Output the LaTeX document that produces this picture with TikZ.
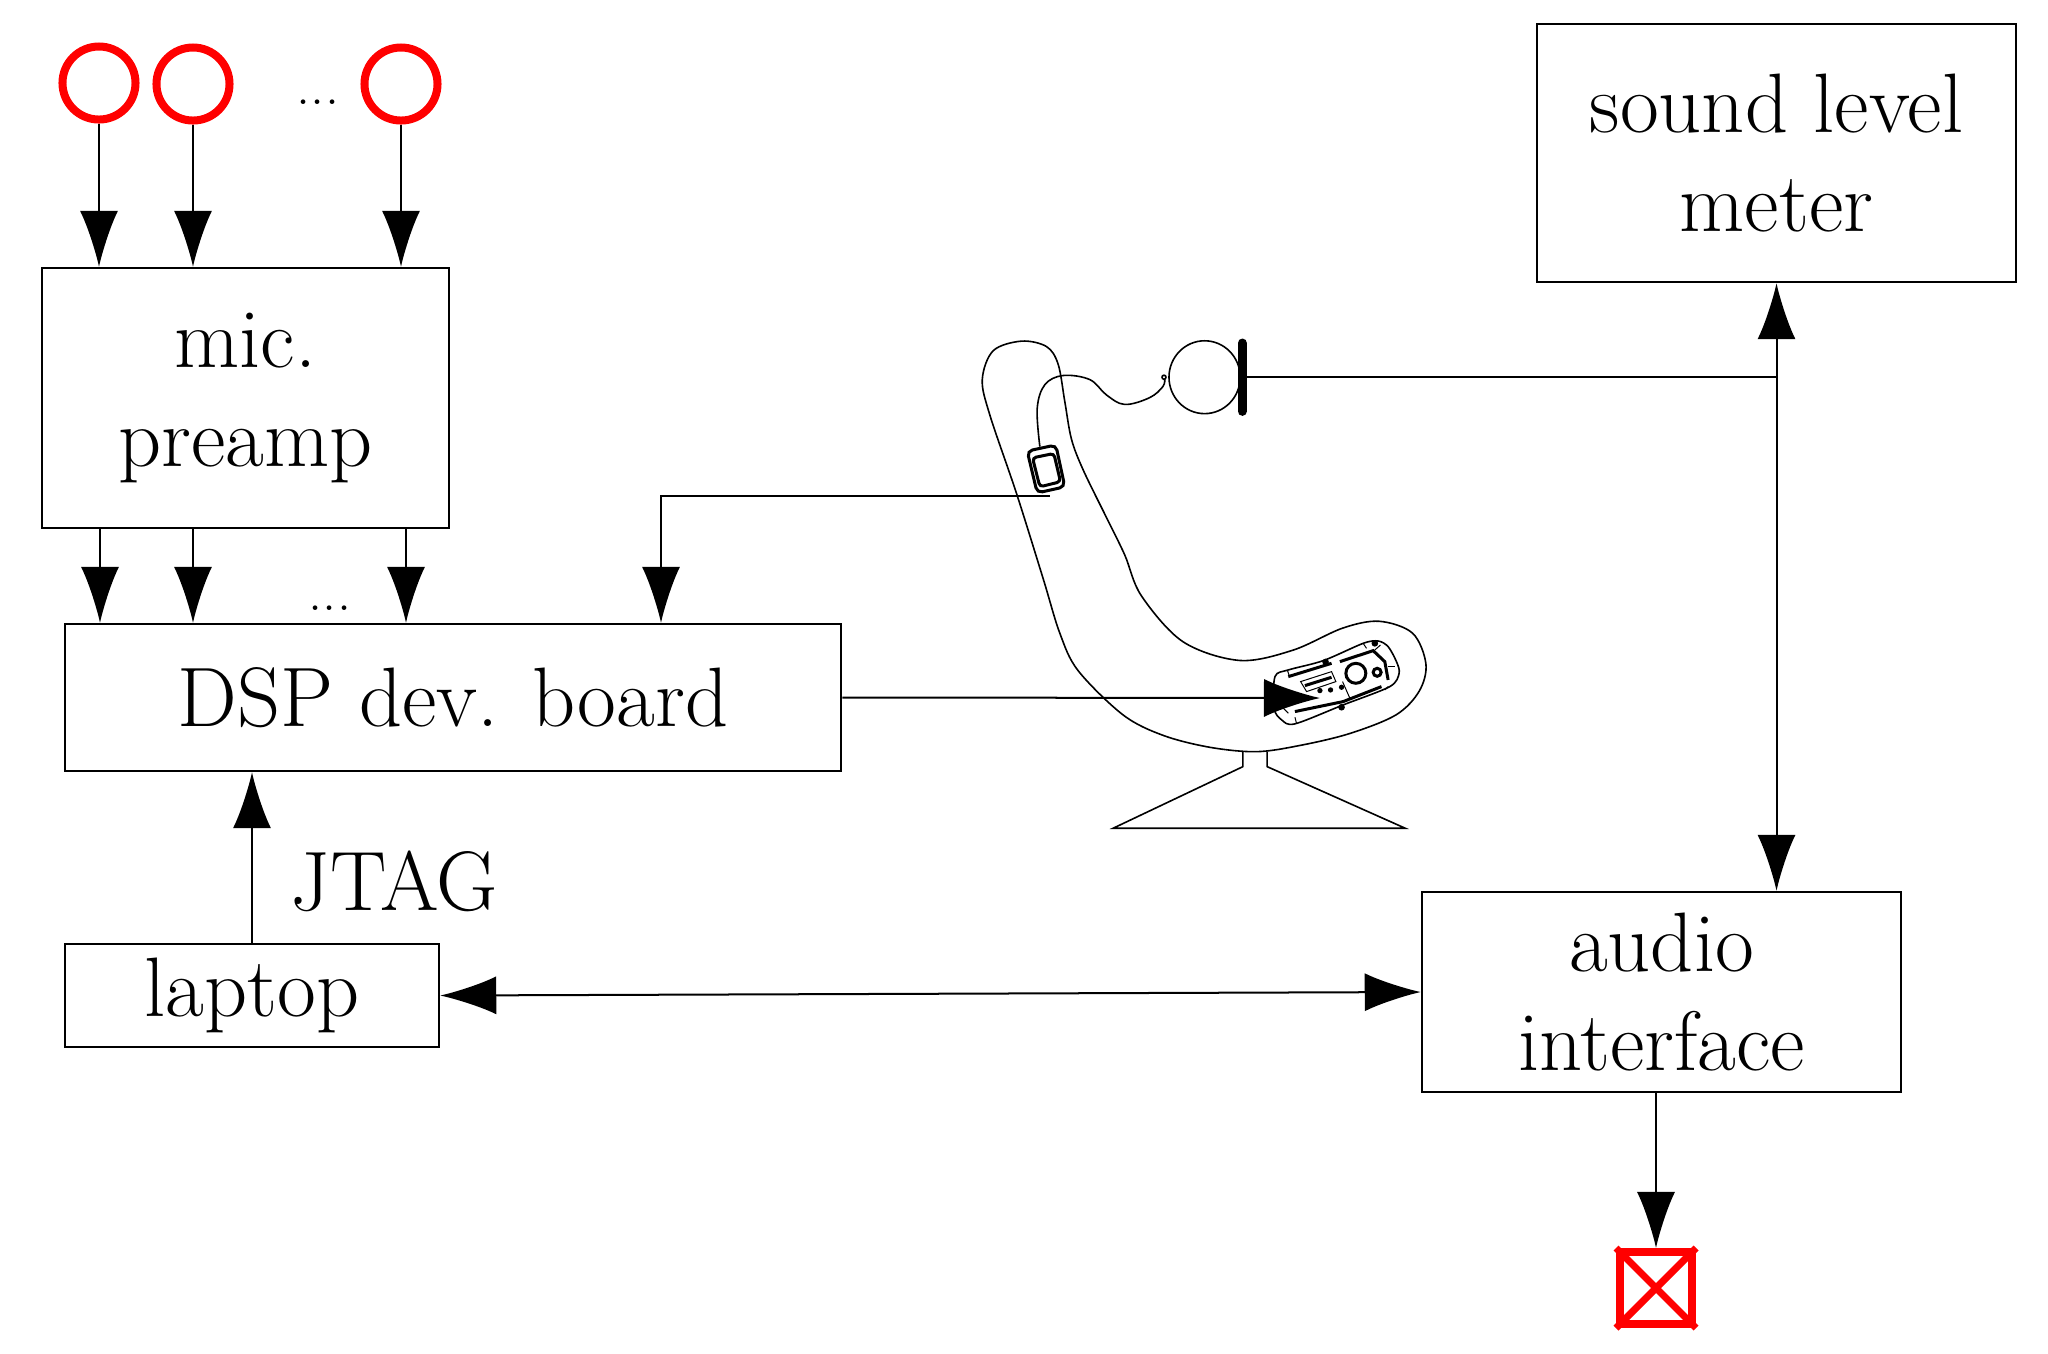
\documentclass[tikz,border=0pt]{standalone}
\usepackage{amsmath}
\usetikzlibrary{arrows.meta}

\tikzset{
  >={Latex[length=5.6mm,width=3.8mm]},
  blockbox/.style={draw,rectangle,inner sep=0,line width=.022cm,align=center,font=\fontsize{24}{28.2}\selectfont},
  micring/.style={draw=red,circle,inner sep=0,line width=.08cm,minimum size=.73cm},
  spkbox/.style={draw=red,rectangle,inner sep=0,line width=.08cm,minimum size=.72cm},
  wire/.style={line width=.02cm},
  chairline/.style={line width=.016cm},
  thinpart/.style={line width=.01cm},
  thickpart/.style={line width=.03cm}
}

\begin{document}
\begin{tikzpicture}[x=.01cm,y=-.01cm]
  \useasboundingbox (0,0) rectangle (2048,1353);
  % boxes
  \node[blockbox,minimum width=4.07cm,minimum height=2.60cm] (preamp) at (245.5,398) {mic.\\preamp};
  \node[blockbox,minimum width=7.76cm,minimum height=1.47cm] (dsp) at (453,697.5) {DSP dev. board};
  \node[blockbox,minimum width=3.74cm,minimum height=1.03cm] (laptop) at (252,995.5) {laptop};
  \node[blockbox,minimum width=4.79cm,minimum height=2.58cm] (meter) at (1776.5,153) {sound level\\meter};
  \node[blockbox,minimum width=4.79cm,minimum height=2.00cm] (audio) at (1661.5,992) {audio\\interface};
  \node[anchor=base,font=\fontsize{24}{28}\selectfont] (jtag) at (394,910) {JTAG};
  % mics
  \node[micring] (mica) at (99,83) {};
  \node[micring] (micb) at (193,84) {};
  \node[micring] (micn) at (401,84) {};
  \node[anchor=base,font=\fontsize{16}{18}\selectfont] (dotstop) at (318,104) {...};
  \draw[wire,->] (mica) -- (mica |- preamp.north);
  \draw[wire,->] (micb) -- (micb |- preamp.north);
  \draw[wire,->] (micn) -- (micn |- preamp.north);
  % preamp to board
  \coordinate (outa) at (100,528);
  \coordinate (outb) at (193,528);
  \coordinate (outn) at (406,528);
  \node[anchor=base,font=\fontsize{16}{18}\selectfont] (dotsmid) at (330,610) {...};
  \draw[wire,->] (outa) -- (outa |- dsp.north);
  \draw[wire,->] (outb) -- (outb |- dsp.north);
  \draw[wire,->] (outn) -- (outn |- dsp.north);
  % chair
  \begin{scope}[shift={(950,320)},x=.003333cm,y=-.003398cm]
    \draw[chairline] plot[smooth cycle,tension=.55] coordinates {
      (215,62) (290,78) (325,130) (345,240) (365,350) (400,440) (470,580) (525,690)
      (575,810) (700,945) (870,1000) (1030,970) (1180,905) (1290,885) (1390,920)
      (1430,1010) (1410,1090) (1340,1160) (1200,1215) (1050,1250) (920,1268)
      (780,1255) (640,1220) (520,1160) (385,1030) (330,920) (280,760) (200,510)
      (120,280) (97,175) (130,90)};
    \draw[chairline] (880,1268) -- (880,1312) -- (490,1493) -- (1368,1493) -- (953,1312) -- (953,1268);
    % phone and its cable
    \draw[thickpart,rounded corners=1.5pt] (232,385) -- (318,367) -- (345,490) -- (262,508) -- cycle;
    \draw[thickpart,rounded corners=1pt] (248,405) -- (312,392) -- (332,475) -- (270,490) -- cycle;
    \draw[chairline] plot[smooth,tension=.6] coordinates {
      (270,372) (262,260) (285,190) (340,163) (420,175) (470,220) (525,248) (600,228) (640,195) (645,172)};
    \draw[chairline] (643,168) circle (6);
    \coordinate (phoneout) at (300,518);
    % head
    \draw[chairline] (765,168) circle (107);
    \draw[line width=.093cm,line cap=round] (878,68) -- (878,268);
    \coordinate (headbar) at (892,168);
  \end{scope}
  % control panel in the seat
  \begin{scope}[shift={(1260,630)},x=.003333cm,y=-.003333cm]
    \draw[chairline] plot[smooth cycle,tension=.5] coordinates {
      (45,140) (85,120) (190,92) (310,40) (355,33) (385,50) (410,95) (418,130)
      (390,170) (250,225) (105,282) (65,270) (42,235)};
    \draw[thickpart] (85,140) -- (215,100);
    \draw[thickpart] (240,95) -- (340,62) -- (375,95) -- (385,150);
    \draw[thickpart] (365,170) -- (250,215) -- (105,245);
    \draw[thickpart] (288,130) circle (30);
    \draw[thickpart] (352,127) circle (12);
    \draw[thinpart] (122,155) -- (215,125) -- (228,155) -- (140,185) -- cycle;
    \draw[thickpart] (135,167) -- (215,142);
    \fill (197,96) circle (10);
    \fill (345,40) circle (10);
    \fill (245,232) circle (10);
    \fill (180,182) circle (8);
    \fill (212,180) circle (8);
    \fill (245,172) circle (8);
    \draw[thinpart] (82,120) -- (88,138);
    \draw[thinpart] (310,40) -- (320,55);
    \draw[thinpart] (362,45) -- (345,60);
    \draw[thinpart] (405,110) -- (385,110);
    \draw[thinpart] (385,170) -- (375,180);
    \draw[thinpart] (248,155) -- (270,205);
    \draw[thinpart] (105,262) -- (110,282);
    \draw[thinpart] (60,225) -- (85,250);
  \end{scope}
  \coordinate (seat) at (1320,698);
  \coordinate (chairin) at (661,0);
  \draw[wire,->] (phoneout) -| (chairin |- dsp.north);
  \draw[wire,->] (dsp.east) -- (seat);
  % meter, interface and speaker
  \draw[wire] (headbar) -- (headbar -| meter.south);
  \draw[wire,<->] (meter.south) -- (meter.south |- audio.north);
  \draw[wire,->] (laptop.north) -- (laptop.north |- dsp.south);
  \draw[wire,<->] (laptop.east) -- (audio.west);
  \node[spkbox] (spk) at (1656,1288) {};
  \draw[red,line width=.07cm] (spk.north west) -- (spk.south east);
  \draw[red,line width=.07cm] (spk.south west) -- (spk.north east);
  \draw[wire,->] (spk.north |- audio.south) -- (spk.north);
\end{tikzpicture}
\end{document}
